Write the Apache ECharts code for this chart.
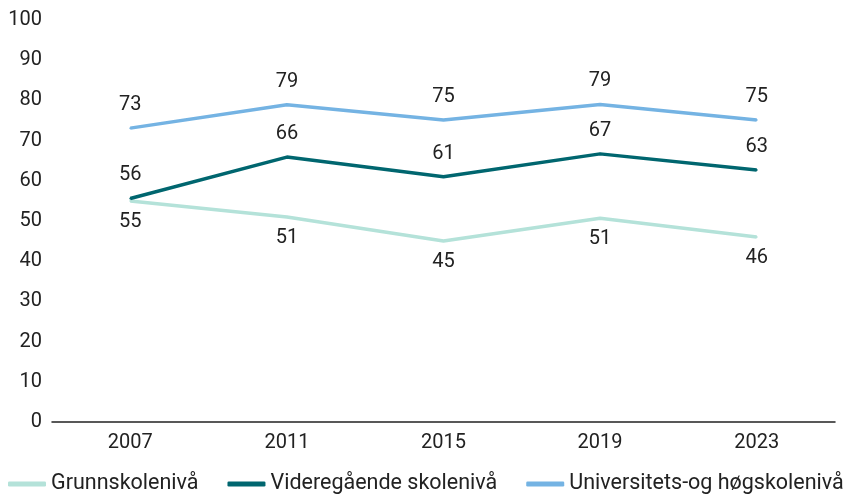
<!DOCTYPE html>
<html><head><meta charset="utf-8">
<script src="https://cdn.jsdelivr.net/npm/echarts@6/dist/echarts.min.js"></script>
<style>html,body{margin:0;padding:0;background:#fff}#c{width:855px;height:500px}</style>
</head><body><div id="c"></div>
<script>
const years = ['2007','2011','2015','2019','2023'];
const grunn = [55.0, 51.0, 45.0, 50.7, 46.0];
const vgs = [55.6, 65.9, 61.0, 66.7, 62.7];
const uni = [73.1, 78.9, 75.1, 79.0, 75.1];
const names = ['Grunnskolenivå','Videregående skolenivå','Universitets-og høgskolenivå'];
const colors = ['#b4e2d9','#00666f','#74b3e3'];
const font = 'Roboto, sans-serif';
function mk(name, data, color, pos, dist){
  return {name, type:'line', data, symbol:'circle', symbolSize:2, showSymbol:true,
    lineStyle:{width:3.5,color}, itemStyle:{color},
    label:{show:true, position:pos, distance:dist, color:'#222', fontSize:20, fontFamily:font,
      formatter:p=>Math.round(p.value)}, labelLayout:{hideOverlap:false}};
}
const chart = echarts.init(document.getElementById('c'));
chart.setOption({
  animation:false,
  grid:{left:52,right:20,top:20,bottom:78},
  legend:{bottom:0,left:8,width:847,padding:[5,0,5,0],itemWidth:38,itemHeight:5,itemGap:29,icon:'roundRect',
    textStyle:{fontSize:21.5,fontFamily:font,color:'#222'},data:names},
  xAxis:{type:'category',data:years,boundaryGap:true,
    axisLine:{lineStyle:{color:'#222',width:1.5}},axisTick:{show:false},
    axisLabel:{fontSize:20,fontFamily:font,color:'#222',margin:11}},
  yAxis:{type:'value',min:0,max:100,interval:10,axisLine:{show:false},axisTick:{show:false},
    splitLine:{show:false},axisLabel:{fontSize:20,fontFamily:font,color:'#222',margin:10}},
  series:[mk(names[0],grunn,colors[0],'bottom',10), mk(names[1],vgs,colors[1],'top',12), mk(names[2],uni,colors[2],'top',12)]
});
</script></body></html>
